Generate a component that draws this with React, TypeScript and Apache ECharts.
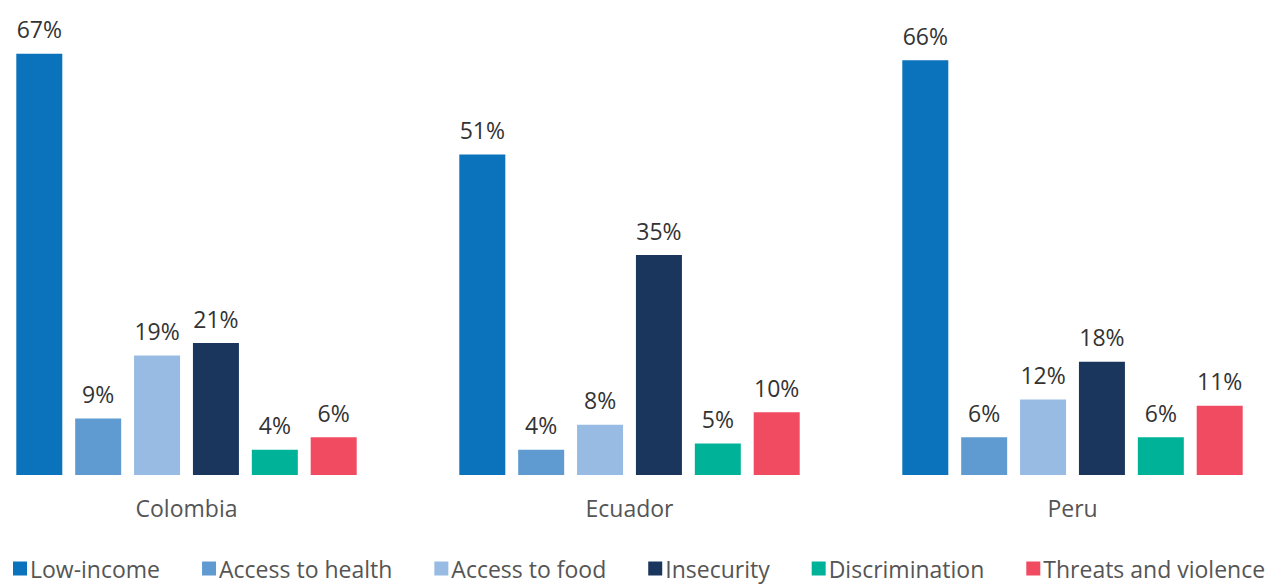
import React, { useEffect, useRef } from "react";
import * as echarts from "echarts";

const countries = ["Colombia", "Ecuador", "Peru"];
const seriesNames = ["Low-income", "Access to health", "Access to food", "Insecurity", "Discrimination", "Threats and violence"];
const lowIncome = [67, 51, 66];
const accessHealth = [9, 4, 6];
const accessFood = [19, 8, 12];
const insecurity = [21, 35, 18];
const discrimination = [4, 5, 6];
const threats = [6, 10, 11];
const colors = ["#0b72bc", "#5f9bd1", "#97bbe2", "#1b365d", "#00b398", "#f04b60"];

const FONT = "'Open Sans', sans-serif";
const SHIFT = 35;

export default function App() {
  const ref = useRef<HTMLDivElement>(null);
  useEffect(() => {
    if (!ref.current) return;
    const chart = echarts.init(ref.current, undefined, { renderer: "svg" });
    const data = [lowIncome, accessHealth, accessFood, insecurity, discrimination, threats];
    chart.setOption({
      animation: false,
      textStyle: { fontFamily: FONT },
      grid: { left: 0, right: 0, top: 35, height: 440, containLabel: false },
      legend: {
        top: 552,
        left: 8 + SHIFT,
        itemWidth: 14,
        itemHeight: 14,
        itemGap: 42,
        icon: "rect",
        textStyle: { fontSize: 23, color: "#555", fontFamily: FONT, padding: [0, 0, 0, -2] },
        data: seriesNames,
      },
      xAxis: {
        type: "category",
        data: countries,
        axisLine: { show: false },
        axisTick: { show: false },
        axisLabel: { fontSize: 23, color: "#555", margin: 21, fontFamily: FONT },
      },
      yAxis: { type: "value", min: 0, max: 70, show: false, splitLine: { show: false } },
      series: seriesNames.map((name, i) => ({
        name,
        type: "bar",
        data: data[i],
        barWidth: 46,
        barGap: "28%",
        itemStyle: { color: colors[i] },
        label: {
          show: true,
          position: "top",
          distance: 13,
          formatter: "{c}%",
          fontSize: 23,
          color: "#333",
          fontFamily: FONT,
        },
      })),
    });
    return () => chart.dispose();
  }, []);
  return (
    <div style={{ position: "absolute", left: 0, top: 0, width: 1273, height: 587, overflow: "hidden" }}>
      <div ref={ref} style={{ position: "absolute", left: -SHIFT, top: 0, width: 1273 + SHIFT + 21, height: 587 }} />
    </div>
  );
}
